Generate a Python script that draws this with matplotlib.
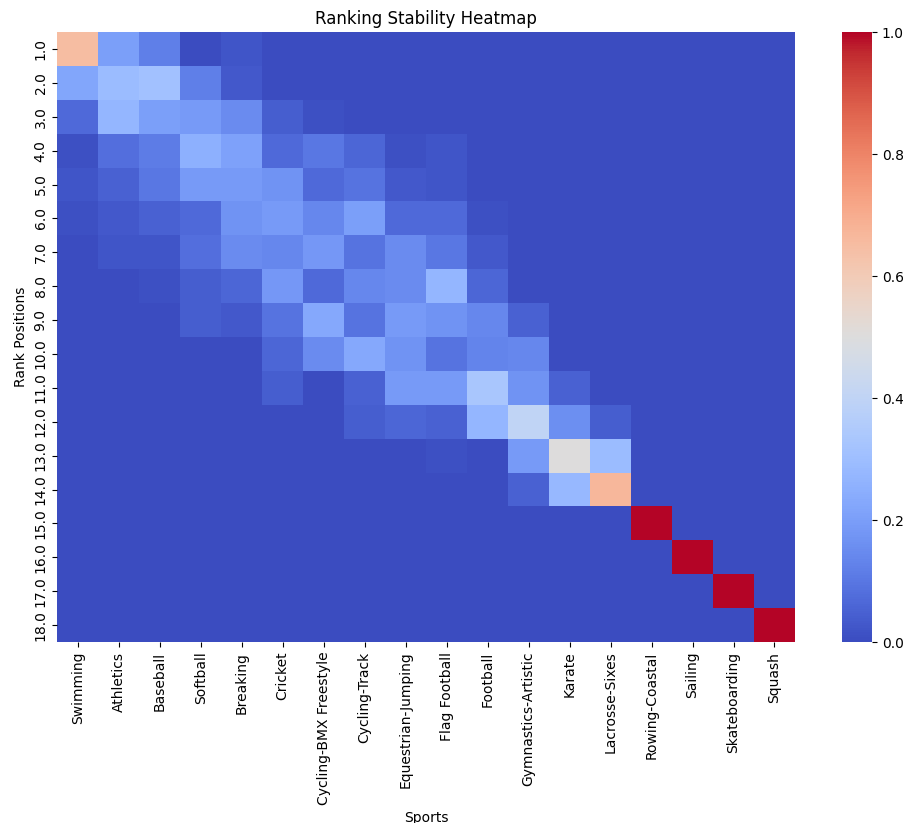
# Ranking stability heatmap (coolwarm)

import numpy as np
import matplotlib
matplotlib.use("Agg")
import matplotlib.pyplot as plt
import seaborn as sns

sports = ["Swimming", "Athletics", "Baseball", "Softball", "Breaking", "Cricket",
          "Cycling-BMX Freestyle", "Cycling-Track", "Equestrian-Jumping", "Flag Football",
          "Football", "Gymnastics-Artistic", "Karate", "Lacrosse-Sixes", "Rowing-Coastal",
          "Sailing", "Skateboarding", "Squash"]
ranks = [f"{float(r):.1f}" for r in range(1, 19)]

# share of runs in which each sport (column) landed on each rank (row)
rank1 = [0.65, 0.20, 0.12, 0.00, 0.02, 0, 0, 0, 0, 0, 0, 0, 0, 0, 0, 0, 0, 0]
rank2 = [0.22, 0.29, 0.31, 0.12, 0.03, 0, 0, 0, 0, 0, 0, 0, 0, 0, 0, 0, 0, 0]
rank3 = [0.07, 0.27, 0.20, 0.19, 0.15, 0.04, 0.01, 0, 0, 0, 0, 0, 0, 0, 0, 0, 0, 0]
rank4 = [0.01, 0.08, 0.11, 0.25, 0.21, 0.07, 0.10, 0.06, 0.01, 0.02, 0, 0, 0, 0, 0, 0, 0, 0]
rank5 = [0.02, 0.05, 0.10, 0.19, 0.19, 0.17, 0.07, 0.09, 0.03, 0.02, 0, 0, 0, 0, 0, 0, 0, 0]
rank6 = [0.01, 0.03, 0.05, 0.07, 0.17, 0.19, 0.14, 0.20, 0.07, 0.07, 0.01, 0, 0, 0, 0, 0, 0, 0]
rank7 = [0, 0.02, 0.02, 0.08, 0.15, 0.14, 0.18, 0.09, 0.15, 0.10, 0.03, 0, 0, 0, 0, 0, 0, 0]
rank8 = [0, 0, 0.01, 0.04, 0.06, 0.18, 0.07, 0.14, 0.15, 0.27, 0.06, 0, 0, 0, 0, 0, 0, 0]
rank9 = [0, 0, 0, 0.04, 0.03, 0.09, 0.23, 0.09, 0.19, 0.17, 0.14, 0.05, 0, 0, 0, 0, 0, 0]
rank10 = [0, 0, 0, 0, 0, 0.06, 0.15, 0.23, 0.17, 0.09, 0.13, 0.14, 0, 0, 0, 0, 0, 0]
rank11 = [0, 0, 0, 0, 0, 0.04, 0.00, 0.05, 0.19, 0.19, 0.33, 0.17, 0.05, 0, 0, 0, 0, 0]
rank12 = [0, 0, 0, 0, 0, 0, 0, 0.04, 0.06, 0.05, 0.27, 0.40, 0.16, 0.04, 0, 0, 0, 0]
rank13 = [0, 0, 0, 0, 0, 0, 0, 0, 0, 0.01, 0, 0.19, 0.50, 0.29, 0, 0, 0, 0]
rank14 = [0, 0, 0, 0, 0, 0, 0, 0, 0, 0, 0, 0.05, 0.28, 0.67, 0, 0, 0, 0]
rank15 = [0, 0, 0, 0, 0, 0, 0, 0, 0, 0, 0, 0, 0, 0, 1.0, 0, 0, 0]
rank16 = [0, 0, 0, 0, 0, 0, 0, 0, 0, 0, 0, 0, 0, 0, 0, 1.0, 0, 0]
rank17 = [0, 0, 0, 0, 0, 0, 0, 0, 0, 0, 0, 0, 0, 0, 0, 0, 1.0, 0]
rank18 = [0, 0, 0, 0, 0, 0, 0, 0, 0, 0, 0, 0, 0, 0, 0, 0, 0, 1.0]

matrix = np.array([rank1, rank2, rank3, rank4, rank5, rank6, rank7, rank8, rank9,
                   rank10, rank11, rank12, rank13, rank14, rank15, rank16, rank17, rank18])

fig = plt.figure(figsize=(9.04, 8.23), dpi=100)
ax = fig.add_axes([0.0634, 0.2199, 0.8160, 0.7412])
cax = fig.add_axes([0.9314, 0.2199, 0.0332, 0.7412])

sns.heatmap(matrix, cmap="coolwarm", vmin=0, vmax=1, ax=ax, cbar_ax=cax,
            xticklabels=sports, yticklabels=ranks)
ax.set_xticklabels(sports, rotation=90)
ax.set_yticklabels(ranks, rotation=90, va="center")
ax.set_title("Ranking Stability Heatmap", fontsize=12)
ax.set_xlabel("Sports")
ax.set_ylabel("Rank Positions")

plt.savefig("out.png", dpi=100)
